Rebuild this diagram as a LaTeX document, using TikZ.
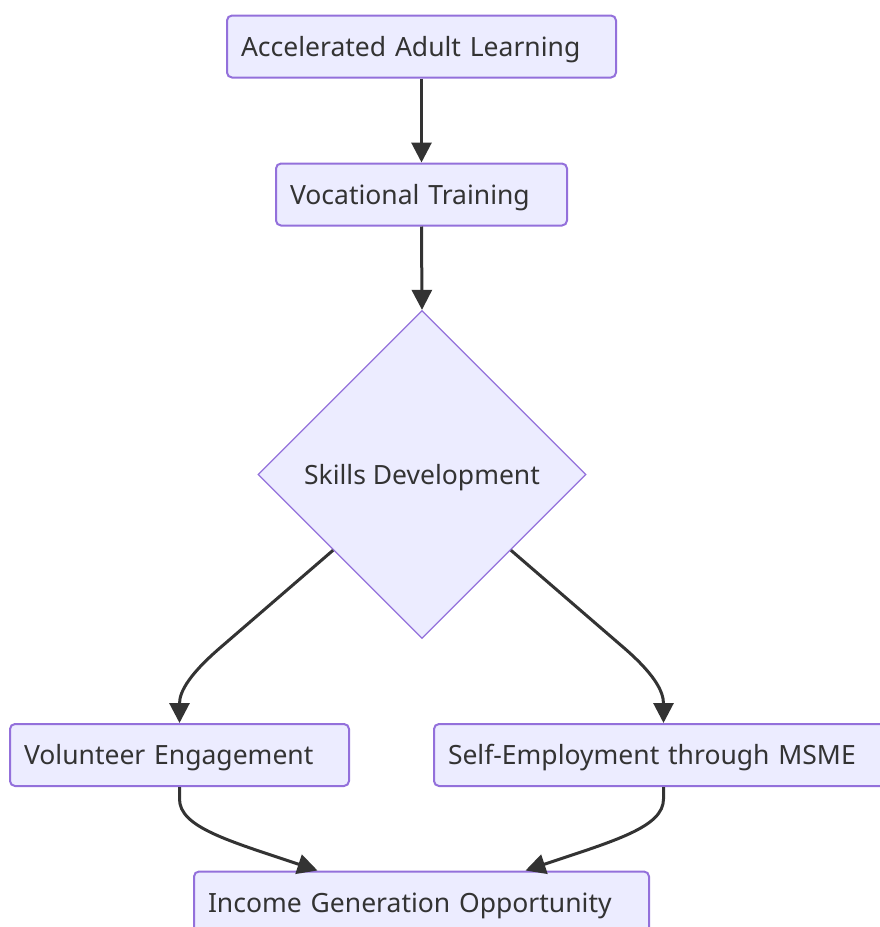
\documentclass[tikz,border=0pt]{standalone}
\usepackage{fontspec}
\setmainfont{Noto Sans}
\usetikzlibrary{shapes.geometric,arrows.meta,calc}
\definecolor{nodefill}{HTML}{ECECFF}
\definecolor{nodeline}{HTML}{9370DB}
\definecolor{ink}{HTML}{333333}
\tikzset{
  box/.style={draw=nodeline, fill=nodefill, line width=2pt, rounded corners=5pt,
    inner xsep=14pt, inner ysep=0pt, align=left, text=ink, minimum height=62pt,
    text height=20pt, text depth=1pt,
    font=\fontsize{26.5}{30}\selectfont},
  decision/.style={diamond, draw=nodeline, fill=nodefill, line width=1.3pt, aspect=1,
    minimum width=328pt, minimum height=328pt, inner sep=0pt, text=ink,
    text height=20pt, text depth=1pt,
    font=\fontsize{26.5}{30}\selectfont},
  link/.style={draw=ink, line width=3pt, -{Triangle[length=20pt,width=20pt]}}
}
\begin{document}
\begin{tikzpicture}[x=1pt,y=-1pt]
\useasboundingbox (0,0) rectangle (880,927);
\clip (0,0) rectangle (880,927);
\node[box, text width=361pt] (A) at (421.5,46.5) {Accelerated Adult Learning};
\node[box, text width=263pt] (B) at (421.5,194.5) {Vocational Training};
\node[decision] (C) at (422,474.5) {Skills Development};
\node[box, text width=311pt] (D) at (179.5,755) {Volunteer Engagement};
\node[box, text width=431pt] (E) at (663.5,755) {Self-Employment through MSME};
\node[box, text width=427pt] (F) at (421.5,902.5) {Income Generation Opportunity};
\draw[link] (A.south) -- (B.north);
\draw[link] (B.south) -- (C.north);
\coordinate (cl) at ($(C.west)!0.46!(C.south)$);
\coordinate (cr) at ($(C.east)!0.46!(C.south)$);
\draw[link] (cl) -- ++(-110,95) .. controls +(-33,28) and ($(D.north)+(0,-32)$) .. (D.north);
\draw[link] (cr) -- ++(110,95) .. controls +(33,28) and ($(E.north)+(0,-32)$) .. (E.north);
\draw[link] (D.south) -- ++(0,12) .. controls +(0,28) and ($([xshift=-104pt]F.north)+(-90,-30)$) .. ([xshift=-104pt]F.north);
\draw[link] (E.south) -- ++(0,12) .. controls +(0,28) and ($([xshift=104pt]F.north)+(90,-30)$) .. ([xshift=104pt]F.north);
\end{tikzpicture}
\end{document}
